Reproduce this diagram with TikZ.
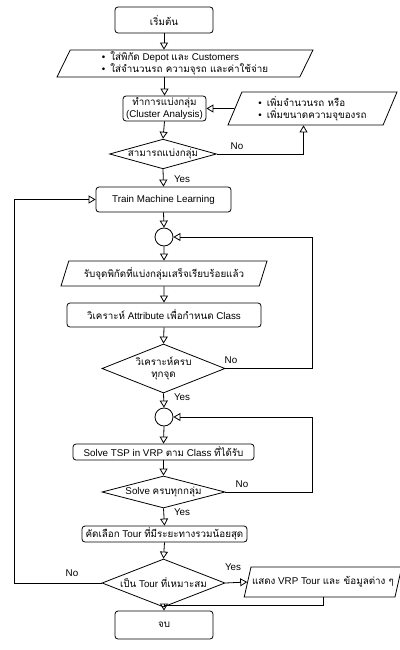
\documentclass[tikz,border=0pt]{standalone}
\usepackage{fontspec}
\setmainfont{Liberation Sans}
\newfontfamily\thaifont[Script=Thai]{Loma}
\newcommand{\tf}[1]{{\thaifont #1}}
\usetikzlibrary{shapes.geometric,arrows.meta}

\begin{document}
\begin{tikzpicture}[
    x=1pt, y=-1pt,
    every node/.style={font=\fontsize{9.8}{11.5}\selectfont},
    procbox/.style={draw, rounded corners=3pt, line width=0.8pt, inner sep=1pt},
    iobox/.style={draw, trapezium, trapezium left angle=62, trapezium right angle=118,
        trapezium stretches body, line width=0.8pt, inner sep=1pt},
    askbox/.style={draw, diamond, line width=0.8pt, inner sep=0pt},
    joint/.style={draw, circle, minimum size=18pt, inner sep=0pt, line width=0.8pt},
    flow/.style={draw, line width=0.8pt, -{Triangle[open, length=7pt, width=8pt]}},
    lbl/.style={inner sep=1pt},
]
\useasboundingbox (0,0) rectangle (399,650);

% --- set up the problem
\node[procbox, minimum width=98pt, minimum height=26pt] (start) at (164,20) {\tf{เริ่มต้น}};
\node[iobox, minimum width=256pt, minimum height=27pt, align=left] (in1) at (185,63.5)
    {\textbullet\hspace{5pt}\tf{ใส่พิกัด} Depot \tf{และ} Customers\\
     \textbullet\hspace{5pt}\tf{ใส่จำนวนรถ ความจุรถ และค่าใช้จ่าย}};
\node[procbox, minimum width=83pt, minimum height=25pt, align=center, inner sep=0pt] (cluster) at (164.5,108.5)
    {\tf{ทำการแบ่งกลุ่ม}\\(Cluster Analysis)};
\node[iobox, minimum width=169pt, minimum height=33pt, align=left] (more) at (312.5,108.5)
    {\textbullet\hspace{5pt}\tf{เพิ่มจำนวนรถ หรือ}\\
     \textbullet\hspace{5pt}\tf{เพิ่มขนาดความจุของรถ}};
\node[askbox, minimum width=100pt, minimum height=28pt, shape aspect=3.6] (d1) at (163,154) {\tf{สามารถแบ่งกลุ่ม}};

% --- training loop
\node[procbox, minimum width=135pt, minimum height=25pt] (train) at (163.5,199.5) {Train Machine Learning};
\node[joint] (c1) at (164,237) {};
\node[iobox, minimum width=206pt, minimum height=25pt] (in2) at (164,273.5)
    {\tf{รับจุดพิกัดที่แบ่งกลุ่มเสร็จเรียบร้อยแล้ว}};
\node[procbox, minimum width=194pt, minimum height=24pt] (attr) at (164,315)
    {\tf{วิเคราะห์} Attribute \tf{เพื่อกำหนด} Class};
\node[askbox, minimum width=123pt, minimum height=49pt, shape aspect=2.5, align=center] (d2) at (163.5,368.5)
    {\tf{วิเคราะห์ครบ}\\\tf{ทุกจุด}};

% --- solve loop
\node[joint] (c2) at (164,417) {};
\node[procbox, minimum width=181pt, minimum height=16pt] (tsp) at (163.5,452)
    {Solve TSP in VRP \tf{ตาม} Class \tf{ที่ได้รับ}};
\node[askbox, minimum width=123pt, minimum height=32pt, shape aspect=3.8] (d3) at (163.5,492)
    {Solve \tf{ครบทุกกลุ่ม}};
\node[procbox, minimum width=165pt, minimum height=16pt] (best) at (164.5,534)
    {\tf{คัดเลือก} Tour \tf{ที่มีระยะทางรวมน้อยสุด}};
\node[askbox, minimum width=123pt, minimum height=48pt, shape aspect=2.6] (d4) at (163.5,583)
    {\tf{เป็น} Tour \tf{ที่เหมาะสม}};
\node[iobox, minimum width=150pt, minimum height=30pt] (out) at (323,582)
    {\tf{แสดง} VRP Tour \tf{และ ข้อมูลต่าง ๆ}};
\node[procbox, minimum width=98pt, minimum height=28pt] (done) at (164,625) {\tf{จบ}};

% --- connectors
\draw[flow] (start.south) -- (start.south |- in1.north);
\draw[flow] (cluster.north |- in1.south) -- (cluster.north);
\draw[flow] (more.west) -- (cluster.east);
\draw[flow] (cluster.south) -- (d1.north);
\draw[flow] (d1.east) -| ([xshift=-9pt]more.south);
\draw[flow] (d1.south) -- (train.north);
\draw[flow] (train.south) -- (c1.north);
\draw[flow] (c1.south) -- (in2.north);
\draw[flow] (in2.south) -- (attr.north);
\draw[flow] (attr.south) -- (d2.north);
\draw[flow] (d2.east) -- ++(87,0) |- (c1.east);
\draw[flow] (d2.south) -- (c2.north);
\draw[flow] (c2.south) -- (tsp.north);
\draw[flow] (tsp.south) -- (d3.north);
\draw[flow] (d3.east) -- ++(87,0) |- (c2.east);
\draw[flow] (d3.south) -- (best.north);
\draw[flow] (best.south) -- (d4.north);
\draw[flow] (d4.east) -- (out.west);
\draw[flow] (d4.west) -- ++(-87,0) |- (train.west);
\draw[flow] (out.south) -- ++(0,8) -| (done.north);

% --- branch labels
\node[lbl] (no1) at (237,146) {No};
\node[lbl] (yes1) at (182,179) {Yes};
\node[lbl] (no2) at (231,360) {No};
\node[lbl] (yes2) at (182,397) {Yes};
\node[lbl] (no3) at (242,484) {No};
\node[lbl] (yes3) at (182,512) {Yes};
\node[lbl] (yes4) at (233,567) {Yes};
\node[lbl] (no4) at (72,573) {No};
\end{tikzpicture}
\end{document}
